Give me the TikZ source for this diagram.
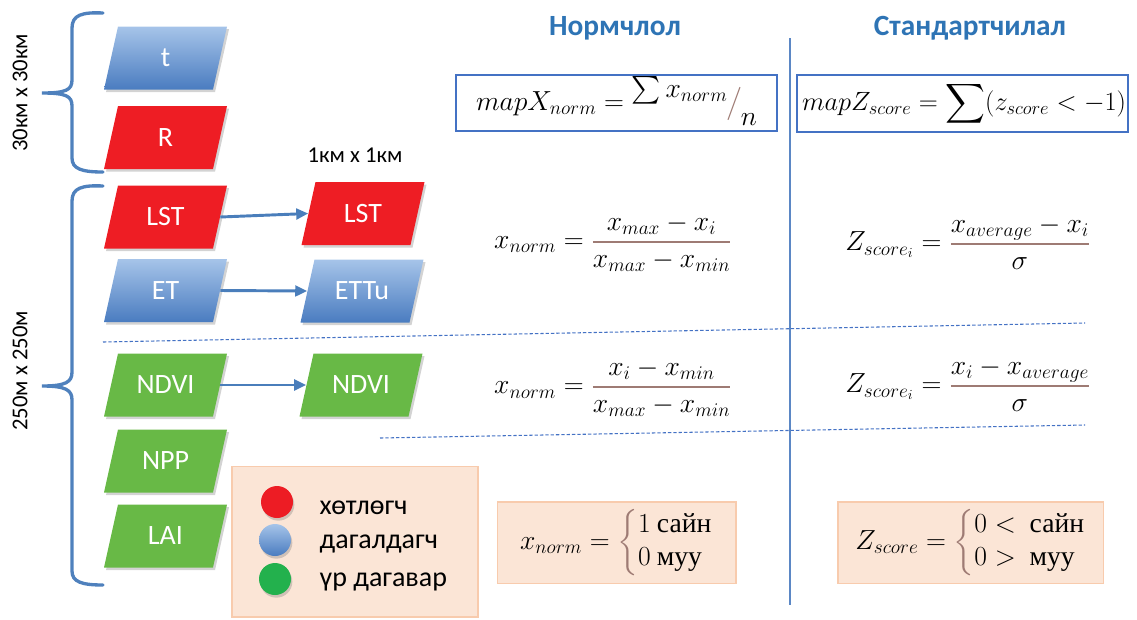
\RequirePackage{fix-cm}
\documentclass[tikz,border=0pt]{standalone}
\usepackage{fontspec}
\usepackage{amsmath}
\setmainfont{Carlito}
\newfontfamily\cyrserif{Liberation Serif}
\usetikzlibrary{shadows,arrows.meta,shadings}
\definecolor{cRed}{HTML}{EE1D24}
\definecolor{cGreen}{HTML}{68B946}
\definecolor{cBlueL}{HTML}{A6C4E9}
\definecolor{cBlueD}{HTML}{4A7CC0}
\definecolor{cArrow}{HTML}{4A7EBB}
\definecolor{cBrace}{HTML}{4F81BD}
\definecolor{cSep}{HTML}{4472C4}
\definecolor{cBox}{HTML}{4472C4}
\definecolor{cPeach}{HTML}{FBE5D6}
\definecolor{cPeachD}{HTML}{F8CBAD}
\definecolor{cHead}{HTML}{2E74B5}
\definecolor{cFrac}{HTML}{9E7B74}
\definecolor{cLRed}{HTML}{ED1C24}
\definecolor{cLGreen}{HTML}{23B14D}
\definecolor{cVline}{HTML}{5B87C5}
\newcommand{\brfrac}[2]{{\color{cFrac}\dfrac{\color{black}#1}{\color{black}#2}}}
% parallelogram: #1 fill style, #2 name, #3 position, #4 text
\newcommand{\paranode}[4]{%
  \path (#3) coordinate (#2-c);
  \path[#1, pshadow] ([shift={(-47.5,-31.5)}]#2-c) -- ([shift={(61.5,-31.5)}]#2-c) -- ([shift={(47.5,31.5)}]#2-c) -- ([shift={(-61.5,31.5)}]#2-c) -- cycle;
  \node[ptext] (#2) at (#2-c) {#4};}
\begin{document}
\begin{tikzpicture}[x=0.75pt,y=-0.75pt,
 pshadow/.style={drop shadow={opacity=0.35, shadow xshift=1.5pt, shadow yshift=-2pt}},
 ptext/.style={rectangle, minimum width=81.75pt, minimum height=47.25pt, inner sep=0pt, text=white, font=\fontsize{21}{24}\selectfont},
 pred/.style={fill=cRed},
 pblue/.style={top color=cBlueL, bottom color=cBlueD},
 pgreen/.style={fill=cGreen},
 conn/.style={draw=cArrow, line width=2.2pt, -{Triangle[length=9pt,width=8pt]}},
 brace/.style={draw=cBrace, line width=2.5pt, line cap=round},
 sep/.style={draw=cSep, line width=0.8pt, dash pattern=on 2.5pt off 1.5pt},
 fbox/.style={draw=cBox, line width=1.2pt, fill=white, inner sep=0pt},
 pbox/.style={draw=cPeachD, fill=cPeach, line width=1pt, inner sep=0pt},
 fml/.style={font=\fontsize{20.7}{25}\selectfont},
 fmls/.style={font=\fontsize{19.8}{24}\selectfont},
 hdr/.style={font=\fontsize{22}{26}\selectfont\bfseries, text=cHead},
 lgc/.style={circle, minimum size=24pt, inner sep=0pt, drop shadow={opacity=0.35, shadow xshift=1pt, shadow yshift=-2pt}},
 lgt/.style={anchor=base west, font=\fontsize{21}{24}\selectfont},
 dim/.style={font=\fontsize{17}{20}\selectfont}
]
\useasboundingbox (0,0) rectangle (1137,619);

% brackets
\draw[brace] (103,13) .. controls (82,12) and (72,15) .. (72,28) -- (72,80) .. controls (72,90) and (66,93) .. (42,93) .. controls (66,93) and (72,96) .. (72,106) -- (72,158) .. controls (72,169) and (82,172) .. (103,172);
\draw[brace] (103,186) .. controls (82,185) and (72,188) .. (72,201) -- (72,372) .. controls (72,382) and (66,386) .. (42,386) .. controls (66,386) and (72,390) .. (72,400) -- (72,571) .. controls (72,582) and (82,585) .. (103,585);
\node[dim, rotate=90] (lab30) at (20,93) {30км x 30км};
\node[dim, rotate=90] (lab250) at (20,371) {250м x 250м};
\node[dim] (lab1) at (355,155) {1км x 1км};

% left column
\paranode{pblue}{t}{165.5,58}{t}
\paranode{pred}{R}{165.5,137.5}{R}
\paranode{pred}{LST}{165.5,217}{LST}
\paranode{pblue}{ET}{165.5,290.5}{ET}
\paranode{pgreen}{NDVI}{165.5,385}{NDVI}
\paranode{pgreen}{NPP}{165.5,461}{NPP}
\paranode{pgreen}{LAI}{165.5,536}{LAI}
% right column
\paranode{pred}{LST2}{363,213.5}{LST}
\paranode{pblue}{ETTu}{362,291}{ETTu}
\paranode{pgreen}{NDVI2}{361,385}{NDVI}

\draw[conn] (LST.east) -- (LST2.west);
\draw[conn] (ET.east) -- (ETTu.west);
\draw[conn] (NDVI.east) -- (NDVI2.west);

% legend
\node[pbox, minimum width=184.5pt, minimum height=113pt] (legend) at (355,541.5) {};
\node[lgc, fill=cLRed] (cr) at (277,502) {};
\node[lgc, top color=cBlueL, bottom color=cBlueD] (cb) at (275,540) {};
\node[lgc, fill=cLGreen] (cg) at (275,579) {};
\node[lgt] (l1) at (315,514) {хөтлөгч};
\node[lgt] (l2) at (315,548) {дагалдагч};
\node[lgt] (l3) at (315,586) {үр дагавар};

% headers and separators
\node[hdr] (h1) at (615,28) {Нормчлол};
\node[hdr] (h2) at (970,28) {Стандартчилал};
\draw[cVline, line width=1.2pt] (790,38) -- (790,605);
\draw[sep] (103,342) -- (1085,323);
\draw[sep] (380,438) -- (1085,425);

% formula boxes
\node[fbox, minimum width=240.75pt, minimum height=42pt] (b1) at (616.5,103) {};
\node[fml] (f1) at (616.5,101) {$mapX_{norm}=\raisebox{1.0ex}{$\sum x_{norm}$}\kern-1pt{\color{cFrac}\big/}\kern-1pt\raisebox{-1.1ex}{$n$}$};
\node[fbox, minimum width=248pt, minimum height=42.75pt] (b2) at (962.5,103.5) {};
\node[fmls] (f2) at (964,103.5) {$mapZ_{score}=\displaystyle\sum(z_{score}<-1)$};

\node[fml] (f3) at (613,243) {$x_{norm}=\brfrac{x_{max}-x_i}{x_{max}-x_{min}}$};
\node[fml] (f4) at (968,243) {$Z_{score_i}=\brfrac{x_{average}-x_i}{\sigma}$};
\node[fml] (f5) at (613,388) {$x_{norm}=\brfrac{x_i-x_{min}}{x_{max}-x_{min}}$};
\node[fml] (f6) at (968,385) {$Z_{score_i}=\brfrac{x_i-x_{average}}{\sigma}$};

\node[pbox, minimum width=179pt, minimum height=61pt] (b3) at (616.5,542.5) {};
\node[fml] (f7) at (616.5,542.5) {$x_{norm}=\color{cFrac}\left\{\color{black}\begin{array}{@{}l@{}}1\ \text{\cyrserif сайн}\\0\ \text{\cyrserif муу}\end{array}\right.$};
\node[pbox, minimum width=199pt, minimum height=61pt] (b4) at (970.5,542.5) {};
\node[fml] (f8) at (970.5,542.5) {$Z_{score}=\color{cFrac}\left\{\color{black}\begin{array}{@{}l@{}}0<\ \text{\cyrserif сайн}\\0>\ \text{\cyrserif муу}\end{array}\right.$};
\end{tikzpicture}
\end{document}
